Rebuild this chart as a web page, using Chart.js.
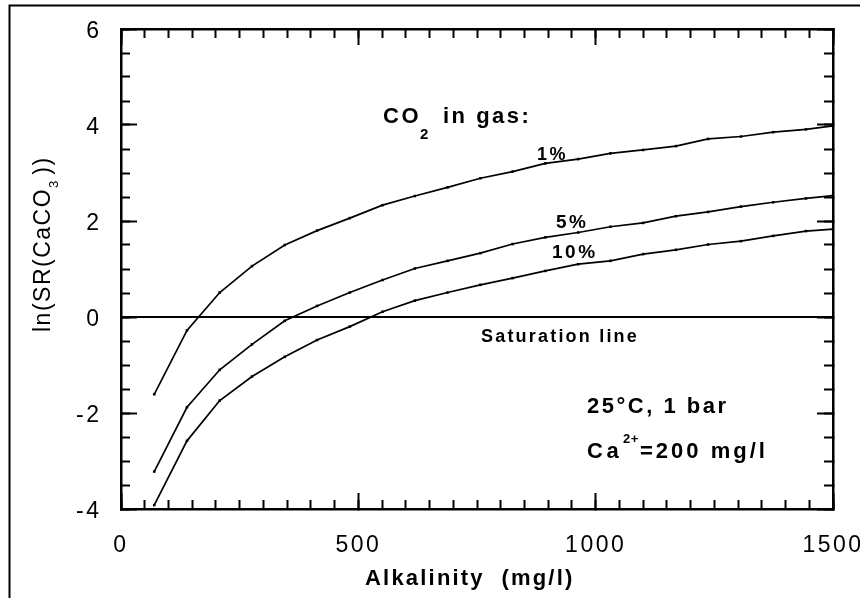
<!DOCTYPE html>
<html>
<head>
<meta charset="utf-8">
<title>ln(SR(CaCO3)) vs. alkalinity</title>
<script src="https://cdn.jsdelivr.net/npm/chart.js@4.4.1/dist/chart.umd.min.js"></script>
<style>
  html, body { margin: 0; padding: 0; background: #fff; }
  canvas { display: block; }
</style>
</head>
<body>
<canvas id="grafico" width="860" height="598"></canvas>
<script>
// Alkalinity (mg/l) of each computed point
const alcalinidad = [70, 139, 208, 276, 345, 413, 482, 551, 619, 688, 757, 825,
  894, 963, 1031, 1100, 1169, 1237, 1306, 1374, 1443, 1500];

// ln(SR(CaCO3)) for each CO2 content of the gas
const co2_1 = [-1.61, -0.28, 0.51, 1.06, 1.50, 1.80, 2.06, 2.33, 2.52, 2.70, 2.89,
  3.03, 3.20, 3.29, 3.41, 3.48, 3.56, 3.71, 3.76, 3.85, 3.91, 3.98];
const co2_5 = [-3.22, -1.88, -1.10, -0.57, -0.08, 0.23, 0.51, 0.77, 1.01, 1.17, 1.33,
  1.52, 1.66, 1.76, 1.88, 1.96, 2.10, 2.19, 2.30, 2.39, 2.47, 2.53];
const co2_10 = [-3.92, -2.58, -1.74, -1.24, -0.83, -0.48, -0.20, 0.11, 0.34, 0.51, 0.67,
  0.81, 0.96, 1.10, 1.17, 1.31, 1.40, 1.51, 1.58, 1.69, 1.79, 1.83];

// saturation line (SR = 1)
const saturacion = 0;

// axes
const xMin = 0, xMax = 1500, xPaso = 500, xPasoMenor = 50;
const yMin = -4, yMax = 6, yPaso = 2, yPasoMenor = 0.5;

const fuente = "'Liberation Sans', Arial, sans-serif";

function serie(valores) {
  return alcalinidad.map((a, i) => ({ x: a, y: valores[i] }));
}

function texto(ctx, str, x, y, size, bold, spacing) {
  ctx.font = (bold ? "bold " : "") + size + "px " + fuente;
  ctx.letterSpacing = spacing + "px";
  ctx.fillText(str, x, y);
  return x + ctx.measureText(str).width;
}

// fixed plot box: 121..833 x 29..509
function alto(h) {
  return (s) => { s.height = h; s.paddingLeft = 0; s.paddingRight = 0; };
}
function ancho(w) {
  return (s) => { s.width = w; s.paddingTop = 0; s.paddingBottom = 0; };
}

function eje(pos, min, max, paso, largo, borde, extra) {
  return Object.assign({
    type: "linear",
    position: pos,
    min: min,
    max: max,
    ticks: { display: false, stepSize: paso, maxTicksLimit: 1000, autoSkip: false },
    grid: { drawOnChartArea: false, drawTicks: true, tickLength: -largo, tickWidth: 2, tickColor: "#000" },
    border: { display: borde, color: "#000", width: 2.5 },
  }, extra);
}

function etiquetas(paso, padding, offset) {
  return {
    display: true,
    stepSize: paso,
    maxTicksLimit: 1000,
    autoSkip: false,
    padding: padding,
    labelOffset: offset,
    font: { size: 23 },
    callback: (v) => String(v),
  };
}

const espaciado = {
  id: "espaciado",
  beforeDraw(chart) {
    chart.ctx.letterSpacing = "2.5px";
  },
};

const rotulos = {
  id: "rotulos",
  afterDraw(chart) {
    const ctx = chart.ctx;
    ctx.save();
    ctx.fillStyle = "#000";
    ctx.textAlign = "left";
    ctx.textBaseline = "alphabetic";

    // outer frame
    ctx.strokeStyle = "#000";
    ctx.lineWidth = 2;
    ctx.beginPath();
    ctx.moveTo(9.5, 600);
    ctx.lineTo(9.5, 5.5);
    ctx.lineTo(862, 5.5);
    ctx.stroke();

    let x = texto(ctx, "CO", 383, 123, 22, true, 2.5);
    texto(ctx, "2", x - 1, 139, 15, true, 0);
    texto(ctx, "in gas:", 443, 123, 22, true, 2.5);

    texto(ctx, "1%", 537, 160, 18, true, 2.5);
    texto(ctx, "5%", 556, 228, 19, true, 2.5);
    texto(ctx, "10%", 552, 258, 19, true, 2.5);
    texto(ctx, "Saturation line", 481, 342, 18, true, 2.2);

    texto(ctx, "25°C, 1 bar", 587, 413, 22, true, 2.5);
    texto(ctx, "Ca", 587, 458, 22, true, 3.5);
    texto(ctx, "2+", 623, 443, 13, true, 0.5);
    texto(ctx, "=200 mg/l", 640, 458, 22, true, 3);

    texto(ctx, "Alkalinity  (mg/l)", 365, 585, 22, true, 2.2);

    ctx.translate(50, 332);
    ctx.rotate(-Math.PI / 2);
    x = texto(ctx, "ln(SR(CaCO", 0, 0, 23, false, 1.5);
    x = texto(ctx, "3", x, 8, 13, false, 0);
    texto(ctx, "))", x + 6, 0, 23, false, 1.5);
    ctx.restore();
  },
};

const curva = {
  borderColor: "#000",
  backgroundColor: "#000",
  borderWidth: 1.7,
  pointRadius: 1.8,
  pointStyle: "rect",
  pointBorderWidth: 0,
  tension: 0,
  fill: false,
};

Chart.defaults.font.family = fuente;
Chart.defaults.color = "#000";

new Chart(document.getElementById("grafico"), {
  type: "line",
  data: {
    datasets: [
      Object.assign({ label: "1%", data: serie(co2_1) }, curva),
      Object.assign({ label: "5%", data: serie(co2_5) }, curva),
      Object.assign({ label: "10%", data: serie(co2_10) }, curva),
      {
        label: "Saturation line",
        data: [{ x: xMin, y: saturacion }, { x: xMax, y: saturacion }],
        borderColor: "#000",
        borderWidth: 2,
        pointRadius: 0,
      },
    ],
  },
  options: {
    responsive: false,
    animation: false,
    devicePixelRatio: 1,
    layout: { padding: { left: 0, top: 29, right: 27, bottom: 0 } },
    plugins: { legend: { display: false }, tooltip: { enabled: false } },
    scales: {
      x: eje("bottom", xMin, xMax, xPaso, 16, true, {
        weight: 1,
        ticks: etiquetas(xPaso, 39, 0),
        afterFit: alto(89),
      }),
      xMenor: eje("bottom", xMin, xMax, xPasoMenor, 9, false, { weight: 0, afterFit: alto(0) }),
      xArriba: eje("top", xMin, xMax, xPasoMenor, 9, true, { afterFit: alto(0) }),
      xArribaMayor: eje("top", xMin, xMax, xPaso, 16, false, { afterFit: alto(0) }),
      y: eje("left", yMin, yMax, yPaso, 16, true, {
        weight: 1,
        ticks: etiquetas(yPaso, 35.5, 3),
        afterFit: ancho(121),
      }),
      yMenor: eje("left", yMin, yMax, yPasoMenor, 9, false, { weight: 0, afterFit: ancho(0) }),
      yDerecha: eje("right", yMin, yMax, yPasoMenor, 9, true, { afterFit: ancho(0) }),
      yDerechaMayor: eje("right", yMin, yMax, yPaso, 16, false, { afterFit: ancho(0) }),
    },
  },
  plugins: [espaciado, rotulos],
});
</script>
</body>
</html>
